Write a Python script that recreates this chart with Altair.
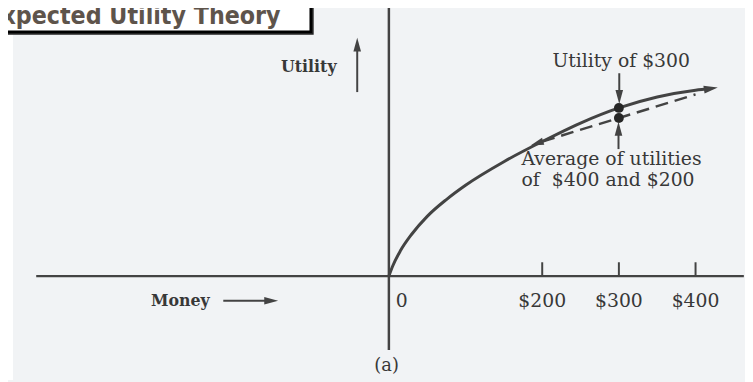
import altair as alt
import pandas as pd

# ---------------- data ----------------
money = [0, 5, 15, 30, 50, 75, 100, 150, 200, 250, 300, 350, 400, 420]
utility = [0, 6, 15, 25, 35.5, 45.5, 54, 68, 80, 91, 100, 106.5, 110.5, 111.5]

chord_money = [200, 300, 400]
chord_utility = [80, 94, 108]

tick_money = [200, 300, 400]
tick_labels = ["$200", "$300", "$400"]

dot_money = [300, 300]
dot_utility = [100, 94]

title_text = "Expected Utility Theory"

# ---------------- style ----------------
W, H = 745, 374
INK = "#434343"
TXT = "#383838"
SERIF = "DejaVu Serif"
BG = "#f1f3f5"
HEAD = "M0,-1L0.55,1L-0.55,1Z"  # arrowhead pointing up (rotated by angle)

XS = alt.Scale(domain=[-496.8, 464.5], nice=False, zero=False)
YS = alt.Scale(domain=[-61.8, 158.2], nice=False, zero=False)


def xq(f="m"):
    return alt.X(f"{f}:Q", scale=XS, axis=None)


def yq(f="u"):
    return alt.Y(f"{f}:Q", scale=YS, axis=None)


def df(**cols):
    return pd.DataFrame(cols)


# left white strip of the scan
strip = alt.Chart(df(a=[0])).mark_rect(color="white").encode(
    x=alt.value(0), x2=alt.value(5), y=alt.value(0), y2=alt.value(H)
)

# axes drawn as rules
h_axis = alt.Chart(df(m=[-460.0], m2=[463.0], u=[0.0])).mark_rule(
    color=INK, strokeWidth=2.2
).encode(x=xq(), x2="m2:Q", y=yq())

v_axis = alt.Chart(df(m=[0.0], u=[-44.0], u2=[165.0])).mark_rule(
    color=INK, strokeWidth=2.5
).encode(x=xq(), y=yq(), y2="u2:Q")

ticks = alt.Chart(df(m=tick_money, u=[0.0] * 3, u2=[8.2] * 3)).mark_rule(
    color=INK, strokeWidth=2
).encode(x=xq(), y=yq(), y2="u2:Q")

tick_text = alt.Chart(df(m=tick_money, u=[-14.7] * 3, t=tick_labels)).mark_text(
    font=SERIF, fontSize=19, color=TXT, align="center", baseline="middle"
).encode(x=xq(), y=yq(), text="t:N")

zero_text = alt.Chart(df(m=[0.0], u=[-14.7], t=["0"])).mark_text(
    font=SERIF, fontSize=19, color=TXT, align="center", baseline="middle", dx=13
).encode(x=xq(), y=yq(), text="t:N")

# utility curve
curve = alt.Chart(df(m=money, u=utility)).mark_line(
    color=INK, strokeWidth=3, interpolate="monotone"
).encode(x=xq(), y=yq())

curve_head = alt.Chart(df(m=[420.0], u=[111.5])).mark_point(
    shape=HEAD, filled=True, color=INK, size=200, angle=81, opacity=1, strokeWidth=0
).encode(x=xq(), y=yq())

# chord (average of utilities)
chord = alt.Chart(df(m=chord_money, u=chord_utility)).mark_line(
    color=INK, strokeWidth=2.5, strokeDash=[13, 7]
).encode(x=xq(), y=yq())

chord_head = alt.Chart(df(m=[193.0], u=[78.9])).mark_point(
    shape=HEAD, filled=True, color=INK, size=180, angle=252, opacity=1, strokeWidth=0
).encode(x=xq(), y=yq())

dots = alt.Chart(df(m=dot_money, u=dot_utility)).mark_point(
    shape="circle", filled=True, color="#262626", size=100, opacity=1
).encode(x=xq(), y=yq())

# annotation arrows (two at $300, one beside "Utility")
arrow_shafts = alt.Chart(
    df(m=[300.5, 299.5, -41.3], u=[120.6, 75.5, 109.4], u2=[106.5, 87.6, 137.0])
).mark_rule(color=INK, strokeWidth=2).encode(x=xq(), y=yq(), y2="u2:Q")

arrow_heads = alt.Chart(
    df(m=[300.5, 299.5, -41.3], u=[106.5, 87.6, 137.6], a=[180, 0, 0])
).mark_point(shape=HEAD, filled=True, color=INK, size=196, opacity=1, strokeWidth=0).encode(
    x=xq(), y=yq(), angle=alt.Angle("a:Q", scale=None)
)

money_shaft = alt.Chart(df(m=[-216.0], m2=[-155.0], u=[-14.7])).mark_rule(
    color=INK, strokeWidth=2
).encode(x=xq(), x2="m2:Q", y=yq())

money_head = alt.Chart(df(m=[-153.5], u=[-14.7])).mark_point(
    shape=HEAD, filled=True, color=INK, size=196, angle=90, opacity=1, strokeWidth=0
).encode(x=xq(), y=yq())

# texts
bold_text = alt.Chart(
    df(m=[-104.5, -272.0], u=[124.0, -14.7], t=["Utility", "Money"])
).mark_text(
    font=SERIF, fontSize=16, fontWeight="bold", color=TXT, align="center", baseline="middle"
).encode(x=xq(), y=yq(), text="t:N")

util300_text = alt.Chart(df(m=[303.0], u=[127.6], t=["Utility of $300"])).mark_text(
    font=SERIF, fontSize=19, color=TXT, align="center", baseline="middle"
).encode(x=xq(), y=yq(), text="t:N")

a_text = alt.Chart(df(m=[-3.0], u=[-53.5], t=["(a)"])).mark_text(
    font=SERIF, fontSize=18, color=TXT, align="center", baseline="middle"
).encode(x=xq(), y=yq(), text="t:N")

left_text = alt.Chart(
    df(m=[173.0, 173.0], u=[69.4, 57.0], t=["Average of utilities", "of\u00a0 $400 and $200"])
).mark_text(
    font=SERIF, fontSize=19, color=TXT, align="left", baseline="middle"
).encode(x=xq(), y=yq(), text="t:N")

# title box (top-left, cropped)
box_shadow = alt.Chart(df(a=[0])).mark_rect(color="#222222").encode(
    x=alt.value(-6), x2=alt.value(309), y=alt.value(-6), y2=alt.value(25)
)
box = alt.Chart(df(a=[0])).mark_rect(color="white", stroke="black", strokeWidth=2.5).encode(
    x=alt.value(-6), x2=alt.value(306), y=alt.value(-6), y2=alt.value(22)
)
title = alt.Chart(df(t=[title_text])).mark_text(
    font="DejaVu Sans Condensed", fontSize=25, fontWeight="bold", color="#5e544b",
    align="left", baseline="alphabetic"
).encode(x=alt.value(-22), y=alt.value(14), text="t:N")

chart = alt.layer(
    strip, h_axis, v_axis, ticks, tick_text, zero_text,
    chord, chord_head, curve, curve_head, dots,
    arrow_shafts, arrow_heads, money_shaft, money_head,
    bold_text, util300_text, a_text, left_text,
    box_shadow, box, title,
).properties(
    width=W, height=H, background=BG, padding=0,
    autosize=alt.AutoSizeParams(type="none"),
).configure_view(strokeWidth=0)

chart.save("out.html", embed_options={"renderer": "svg", "actions": False})
